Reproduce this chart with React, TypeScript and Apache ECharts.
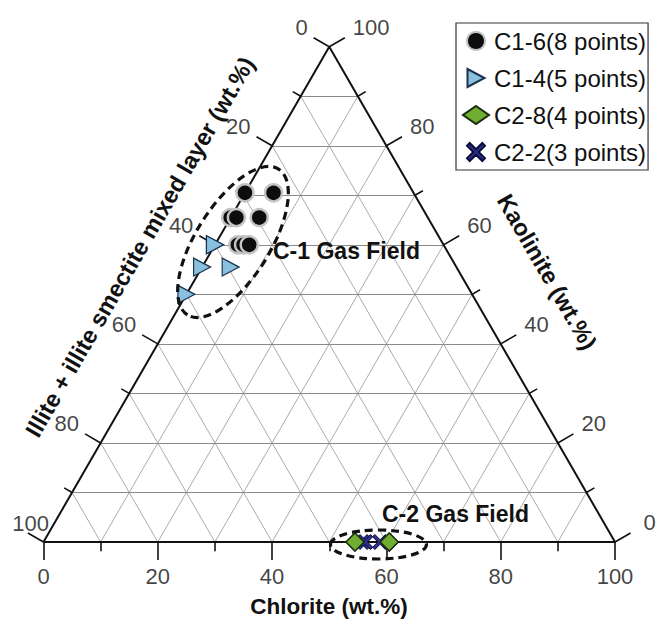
import React, { useEffect, useRef } from "react";
import * as echarts from "echarts";

// Axis tick values (wt.%)
const majorTicks = [0, 20, 40, 60, 80, 100];
const minorTicks = [10, 30, 50, 70, 90];
const gridLevels = [10, 20, 30, 40, 50, 60, 70, 80, 90];

// Samples as [chlorite, kaolinite, illite] (wt.%)
const c16 = [
  [0, 70.5, 29.5],
  [5, 70.5, 24.5],
  [0, 65.5, 34.5],
  [1, 65.5, 33.5],
  [5, 65.5, 29.5],
  [4, 60, 36],
  [5, 60, 35],
  [6, 60, 34],
];
const c14 = [
  [0, 60, 40],
  [0, 60, 40],
  [0, 55.5, 44.5],
  [5, 55.5, 39.5],
  [0, 50, 50],
];
const c28 = [
  [54.5, 0, 45.5],
  [54.5, 0, 45.5],
  [60.5, 0, 39.5],
  [60.5, 0, 39.5],
];
const c22 = [
  [55.7, 0, 44.3],
  [56.3, 0, 43.7],
  [58.9, 0, 41.1],
];

const seriesNames = ["C1-6(8 points)", "C1-4(5 points)", "C2-8(4 points)", "C2-2(3 points)"];

const FONT = '"Liberation Sans", Arial, sans-serif';
const SQ = Math.sqrt(3) / 2;
const toXY = (t: number[]) => [t[0] + t[1] / 2, t[1] * SQ];

const MAJ = 3.15; // tick length in data units
const MIN = 1.6;

const X_PATH =
  "path://M0,3 L3,0 L10,7 L17,0 L20,3 L13,10 L20,17 L17,20 L10,13 L3,20 L0,17 L7,10 Z";
const TRI_PATH = "path://M0,0 L17,9 L0,18 Z";

export default function App() {
  const ref = useRef<HTMLDivElement>(null);

  useEffect(() => {
    document.body.style.margin = "0";
    if (!ref.current) return;
    const chart = echarts.init(ref.current, null, { renderer: "svg" });

    // grid lines
    const hLines = gridLevels.map((v) => ({
      coords: [toXY([0, v, 100 - v]), toXY([100 - v, v, 0])],
    }));
    const dLines: any[] = [];
    gridLevels.forEach((v) => {
      dLines.push({ coords: [toXY([v, 0, 100 - v]), toXY([v, 100 - v, 0])] });
      dLines.push({ coords: [toXY([100 - v, 0, v]), toXY([0, 100 - v, v])] });
    });

    // ticks
    const tickLines: any[] = [];
    const addTicks = (vals: number[], len: number) => {
      vals.forEach((v) => {
        const b = toXY([v, 0, 100 - v]);
        tickLines.push({ coords: [b, [b[0], b[1] - len]] });
        const l = toXY([0, 100 - v, v]);
        tickLines.push({ coords: [l, [l[0] - len * SQ, l[1] + len * 0.5]] });
        const r = toXY([100 - v, v, 0]);
        tickLines.push({ coords: [r, [r[0] + len * SQ, r[1] + len * 0.5]] });
      });
    };
    addTicks(majorTicks, MAJ);
    addTicks(minorTicks, MIN);

    const bottomLabels = majorTicks.map((v) => {
      const b = toXY([v, 0, 100 - v]);
      return [b[0], b[1] - MAJ, v];
    });
    const leftLabels = majorTicks.map((v) => {
      const l = toXY([0, 100 - v, v]);
      const item: any = { value: [l[0] - MAJ * SQ, l[1] + MAJ * 0.5, v] };
      if (v === 100) item.label = { offset: [21, 2] };
      return item;
    });
    const rightLabels = majorTicks.map((v) => {
      const r = toXY([100 - v, v, 0]);
      const item: any = { value: [r[0] + MAJ * SQ, r[1] + MAJ * 0.5, v] };
      if (v === 0) item.label = { offset: [13, 1] };
      return item;
    });

    const labelSeries = (data: any[], align: string, vAlign: string, offset: number[]) => ({
      type: "scatter",
      data,
      symbolSize: 0,
      clip: false,
      silent: true,
      z: 5,
      label: {
        show: true,
        position: [0, 0],
        align,
        verticalAlign: vAlign,
        offset,
        formatter: (p: any) => String(p.value[2]),
        fontSize: 22,
        fontFamily: FONT,
        color: "#111",
      },
    });

    const titleStyle = (text: string, size: number) => ({
      text,
      fontSize: size,
      fontWeight: "bold",
      fontFamily: FONT,
      fill: "#111",
      align: "center",
      verticalAlign: "middle",
    });

    const option: any = {
      animation: false,
      grid: { left: 43.5, top: 46.7, width: 571.5, height: 495.3 },
      xAxis: { type: "value", min: 0, max: 100, show: false },
      yAxis: { type: "value", min: 0, max: 100 * SQ, show: false },
      legend: {
        orient: "vertical",
        left: 456,
        top: 23,
        padding: [6, 2, 6, 6],
        itemWidth: 26,
        itemHeight: 18,
        itemGap: 13,
        borderColor: "#333",
        borderWidth: 1.2,
        textStyle: { fontSize: 24, lineHeight: 24, fontFamily: FONT, color: "#111" },
        data: seriesNames,
      },
      series: [
        {
          type: "lines",
          coordinateSystem: "cartesian2d",
          data: dLines,
          silent: true,
          clip: false,
          lineStyle: { color: "#ababab", width: 1, opacity: 1 },
          z: 1,
        },
        {
          type: "lines",
          coordinateSystem: "cartesian2d",
          data: hLines,
          silent: true,
          clip: false,
          lineStyle: { color: "#8a8a8a", width: 1, opacity: 1 },
          z: 1,
        },
        {
          type: "lines",
          coordinateSystem: "cartesian2d",
          data: tickLines,
          silent: true,
          clip: false,
          lineStyle: { color: "#111", width: 1.6, opacity: 1 },
          z: 2,
        },
        {
          type: "line",
          data: [toXY([0, 0, 100]), toXY([100, 0, 0]), toXY([0, 100, 0]), toXY([0, 0, 100])],
          symbol: "none",
          silent: true,
          clip: false,
          lineStyle: { color: "#111", width: 2 },
          z: 2,
        },
        labelSeries(bottomLabels, "center", "top", [0, 5]),
        labelSeries(leftLabels, "right", "bottom", [-6, 1]),
        labelSeries(rightLabels, "left", "bottom", [8, 1]),
        {
          name: seriesNames[0],
          type: "scatter",
          data: c16.map(toXY),
          symbol: "circle",
          symbolSize: 17,
          clip: false,
          itemStyle: { color: "#0d0d0d", borderColor: "#c4c4c4", borderWidth: 2.5, opacity: 1 },
          z: 10,
        },
        {
          name: seriesNames[1],
          type: "scatter",
          data: c14.map(toXY),
          symbol: TRI_PATH,
          symbolSize: [17, 18],
          clip: false,
          itemStyle: { color: "#88c0dd", borderColor: "#1b3350", borderWidth: 1.2, opacity: 1 },
          z: 10,
        },
        {
          name: seriesNames[3],
          type: "scatter",
          data: c22.map(toXY),
          symbol: X_PATH,
          symbolSize: 15,
          clip: false,
          itemStyle: { color: "#2d2f88", borderColor: "#0c0c3a", borderWidth: 1, opacity: 1 },
          z: 10,
        },
        {
          name: seriesNames[2],
          type: "scatter",
          data: c28.map(toXY),
          symbol: "diamond",
          symbolSize: 18,
          clip: false,
          itemStyle: { color: "#6fae30", borderColor: "#1a2a0e", borderWidth: 1.3, opacity: 1 },
          z: 11,
        },
      ],
      graphic: [
        {
          type: "ellipse",
          x: 233,
          y: 242,
          rotation: (58 * Math.PI) / 180,
          shape: { cx: 0, cy: 0, rx: 86, ry: 37 },
          style: { fill: "none", stroke: "#111", lineWidth: 3.2, lineDash: [8, 5] },
          z: 20,
          silent: true,
        },
        {
          type: "ellipse",
          x: 378.5,
          y: 544.5,
          shape: { cx: 0, cy: 0, rx: 48, ry: 14.5 },
          style: { fill: "none", stroke: "#111", lineWidth: 3.2, lineDash: [8, 5] },
          z: 20,
          silent: true,
        },
        {
          type: "text",
          x: 273,
          y: 251,
          style: { ...titleStyle("C-1 Gas Field", 23), align: "left" },
          z: 21,
        },
        {
          type: "text",
          x: 382,
          y: 514,
          style: { ...titleStyle("C-2 Gas Field", 23), align: "left" },
          z: 21,
        },
        {
          type: "text",
          x: 329,
          y: 606,
          style: titleStyle("Chlorite (wt.%)", 22.5),
          z: 21,
        },
        {
          type: "text",
          x: 140,
          y: 247,
          rotation: Math.PI / 3,
          style: titleStyle("Illite + illite smectite mixed layer (wt.%)", 23.5),
          z: 21,
        },
        {
          type: "text",
          x: 547,
          y: 272,
          rotation: -Math.PI / 3,
          style: titleStyle("Kaolinite (wt.%)", 23.5),
          z: 21,
        },
      ],
    };

    chart.setOption(option);
    return () => chart.dispose();
  }, []);

  return <div ref={ref} style={{ width: 657, height: 619 }} />;
}
